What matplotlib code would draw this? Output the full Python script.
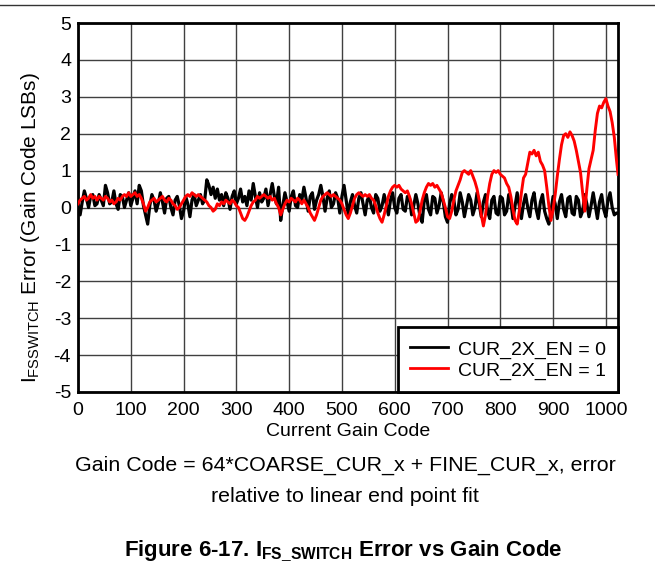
import matplotlib
matplotlib.use("Agg")
import matplotlib.pyplot as plt
from matplotlib.lines import Line2D

plt.rcParams['font.family'] = ['Liberation Sans', 'DejaVu Sans']
plt.rcParams['mathtext.fontset'] = 'custom'
plt.rcParams['mathtext.rm'] = 'Liberation Sans'
plt.rcParams['mathtext.bf'] = 'Liberation Sans:bold'
plt.rcParams['mathtext.it'] = 'Liberation Sans:italic'
plt.rcParams['axes.unicode_minus'] = False

# Gain codes (step 4, plus last code 1023)
codes = list(range(0, 1024, 4)) + [1023]

# CUR_2X_EN = 0 (black)
err_en0 = [
    0.00, -0.20, 0.15, 0.45, 0.25, 0.00, 0.30, 0.35, 0.05, 0.10, 0.35, 0.20, 0.05, 0.60, 0.40, 0.10,
    0.15, 0.45, 0.10, -0.05, 0.35, 0.30, 0.00, 0.20, 0.40, 0.05, 0.25, 0.45, 0.10, 0.60, 0.45, 0.05,
    -0.20, -0.45, 0.05, 0.35, 0.20, -0.10, 0.10, 0.40, 0.15, -0.15, 0.25, 0.30, 0.00, -0.20, 0.20, 0.30,
    0.05, -0.30, -0.10, 0.30, 0.10, -0.25, 0.20, 0.35, 0.05, 0.20, 0.35, 0.10, 0.20, 0.75, 0.60, 0.35,
    0.55, 0.25, 0.50, 0.20, 0.35, 0.05, 0.40, 0.25, -0.05, 0.30, 0.45, 0.10, 0.25, 0.50, 0.15, 0.30,
    0.05, 0.45, 0.20, 0.65, 0.30, 0.00, 0.40, 0.15, 0.25, 0.50, 0.05, 0.35, 0.65, 0.30, 0.10, 0.55,
    -0.35, 0.05, 0.40, 0.15, -0.10, 0.30, 0.45, 0.05, 0.00, 0.35, 0.20, 0.55, 0.25, -0.10, 0.30, 0.40,
    -0.05, 0.20, 0.35, 0.60, 0.30, -0.10, 0.25, 0.45, 0.00, 0.10, 0.40, 0.25, -0.15, 0.30, 0.60, 0.20,
    -0.20, 0.15, 0.35, 0.05, -0.15, 0.25, 0.40, 0.10, -0.20, 0.20, 0.30, 0.00, -0.15, 0.35, 0.25, -0.10,
    0.05, 0.35, 0.10, -0.20, 0.20, 0.40, 0.00, -0.15, 0.25, 0.35, -0.05, -0.10, 0.30, 0.25, -0.20, 0.05,
    0.35, 0.10, -0.25, -0.40, 0.20, 0.35, -0.05, -0.20, 0.30, 0.25, -0.15, 0.05, 0.40, 0.15, -0.25, -0.40,
    0.10, 0.35, 0.20, -0.20, -0.05, 0.40, 0.15, -0.25, 0.05, 0.35, 0.20, -0.20, 0.00, 0.40, 0.10, -0.25,
    0.15, 0.35, -0.10, -0.30, 0.20, 0.30, -0.15, -0.20, 0.30, 0.25, -0.20, -0.10, 0.35, 0.15, -0.30, 0.05,
    0.40, 0.05, -0.30, 0.10, 0.35, 0.00, -0.25, 0.20, 0.40, -0.05, -0.30, 0.15, 0.35, -0.10, -0.30, -0.45,
    -0.10, 0.30, 0.10, -0.30, 0.15, 0.35, -0.05, -0.25, 0.25, 0.30, -0.15, -0.20, 0.30, 0.20, -0.25, -0.10,
    0.35, 0.10, -0.25, 0.05, 0.40, 0.05, -0.30, 0.15, 0.35, -0.05, -0.25, 0.20, 0.40, 0.00, -0.20, -0.15,
    -0.15,
]

# CUR_2X_EN = 1 (red)
err_en1 = [
    0.10, 0.20, 0.25, 0.30, 0.20, 0.25, 0.35, 0.25, 0.30, 0.20, 0.30, 0.25, 0.20, 0.30, 0.25, 0.15,
    0.20, 0.10, 0.15, 0.25, 0.20, 0.30, 0.35, 0.30, 0.40, 0.30, 0.35, 0.40, 0.30, 0.35, 0.25, 0.10,
    -0.10, 0.00, 0.15, 0.20, 0.25, 0.15, 0.20, 0.25, 0.30, 0.20, 0.15, 0.25, 0.20, 0.10, 0.05, -0.05,
    0.00, 0.10, 0.20, 0.30, 0.35, 0.30, 0.40, 0.35, 0.30, 0.35, 0.30, 0.25, 0.20, 0.15, 0.05, 0.00,
    -0.10, -0.05, 0.10, 0.05, 0.15, 0.10, 0.20, 0.15, 0.10, 0.20, 0.15, 0.05, 0.00, -0.15, -0.30, -0.35,
    -0.25, -0.10, 0.05, 0.15, 0.20, 0.30, 0.25, 0.30, 0.35, 0.30, 0.25, 0.30, 0.20, 0.25, 0.10, 0.00,
    -0.20, -0.05, 0.10, 0.20, 0.15, 0.25, 0.20, 0.15, 0.25, 0.20, 0.10, 0.20, 0.10, 0.00, -0.15, -0.25,
    -0.35, -0.20, 0.00, 0.20, 0.30, 0.35, 0.40, 0.35, 0.30, 0.35, 0.30, 0.25, 0.20, 0.10, -0.05, -0.20,
    -0.30, -0.15, 0.05, 0.25, 0.35, 0.40, 0.35, 0.30, 0.35, 0.30, 0.35, 0.25, 0.20, 0.05, -0.15, -0.30,
    -0.40, -0.20, 0.05, 0.30, 0.45, 0.55, 0.60, 0.55, 0.60, 0.50, 0.45, 0.40, 0.45, 0.30, 0.10, -0.15,
    -0.40, -0.35, -0.10, 0.20, 0.40, 0.55, 0.65, 0.60, 0.65, 0.55, 0.60, 0.50, 0.40, 0.20, 0.00, -0.25,
    -0.30, -0.10, 0.20, 0.45, 0.60, 0.75, 0.95, 1.00, 0.95, 0.90, 1.00, 0.85, 0.70, 0.50, 0.20, -0.20,
    -0.50, -0.20, 0.30, 0.65, 0.90, 1.00, 0.95, 1.00, 0.90, 0.85, 0.80, 0.65, 0.55, 0.30, -0.05, -0.35,
    -0.45, -0.10, 0.40, 0.80, 0.90, 1.20, 1.50, 1.45, 1.55, 1.40, 1.50, 1.25, 1.15, 1.00, 0.55, 0.05,
    -0.35, -0.05, 0.35, 0.85, 1.30, 1.70, 1.95, 2.00, 1.90, 2.05, 1.95, 1.80, 1.55, 1.25, 0.95, 0.40,
    -0.10, 0.50, 1.05, 1.30, 1.55, 2.10, 2.55, 2.75, 2.70, 2.85, 2.95, 2.75, 2.60, 2.30, 1.90, 1.30,
    0.90,
]

x_ticks = [0, 100, 200, 300, 400, 500, 600, 700, 800, 900, 1000]
y_ticks = [-5, -4, -3, -2, -1, 0, 1, 2, 3, 4, 5]
series_labels = ['CUR_2X_EN = 0', 'CUR_2X_EN = 1']
series_colors = ['black', '#ff0000']

fig = plt.figure(figsize=(6.55, 5.71), dpi=100)
ax = fig.add_axes([78 / 655, 1 - 392 / 571, (618 - 78) / 655, (392 - 23) / 571])

ax.plot(codes, err_en0, color=series_colors[0], lw=2.3, label=series_labels[0], zorder=3)
ax.plot(codes, err_en1, color=series_colors[1], lw=2.1, label=series_labels[1], zorder=4)

ax.set_xlim(0, 1023)
ax.set_ylim(-5, 5)
ax.set_xticks(x_ticks)
ax.set_yticks(y_ticks)
ax.grid(True, color='#404040', lw=1.0, zorder=1)
ax.set_axisbelow(True)
for sp in ax.spines.values():
    sp.set_linewidth(2.0)
    sp.set_color('black')
ax.tick_params(axis='y', length=0, pad=5, labelsize=14)
ax.tick_params(axis='x', length=0, pad=7, labelsize=14)

ax.set_xlabel('Current Gain Code', fontsize=14, labelpad=3)
ax.set_ylabel(r'$\mathregular{I_{FSSWITCH}}$ Error (Gain Code LSBs)', fontsize=15)
ax.yaxis.set_label_coords(-0.066, 0.445)

handles = [Line2D([], [], color=series_colors[0], lw=2.0),
           Line2D([], [], color=series_colors[1], lw=2.0)]
leg = ax.legend(handles, series_labels, loc='lower right', borderaxespad=0,
                fancybox=False, framealpha=1, edgecolor='black', fontsize=14,
                handlelength=1.95, handleheight=1.1, labelspacing=0.05,
                borderpad=0.6, handletextpad=0.55)
leg.get_frame().set_linewidth(2.0)
leg.set_zorder(10)

fig.text(0.527, 1 - 465 / 571, 'Gain Code = 64*COARSE_CUR_x + FINE_CUR_x, error',
         ha='center', va='center', fontsize=15.4)
fig.text(0.527, 1 - 497 / 571, 'relative to linear end point fit',
         ha='center', va='center', fontsize=15.4)
fig.text(0.524, 1 - 551 / 571, r'Figure 6-17. $\mathbf{I_{FS\_SWITCH}}$ Error vs Gain Code',
         ha='center', va='center', fontsize=16, fontweight='bold')

fig.add_artist(Line2D([0, 1], [1 - 5 / 571, 1 - 5 / 571], transform=fig.transFigure,
                      color='#333333', lw=1.0))

fig.savefig('out.png', dpi=100)
